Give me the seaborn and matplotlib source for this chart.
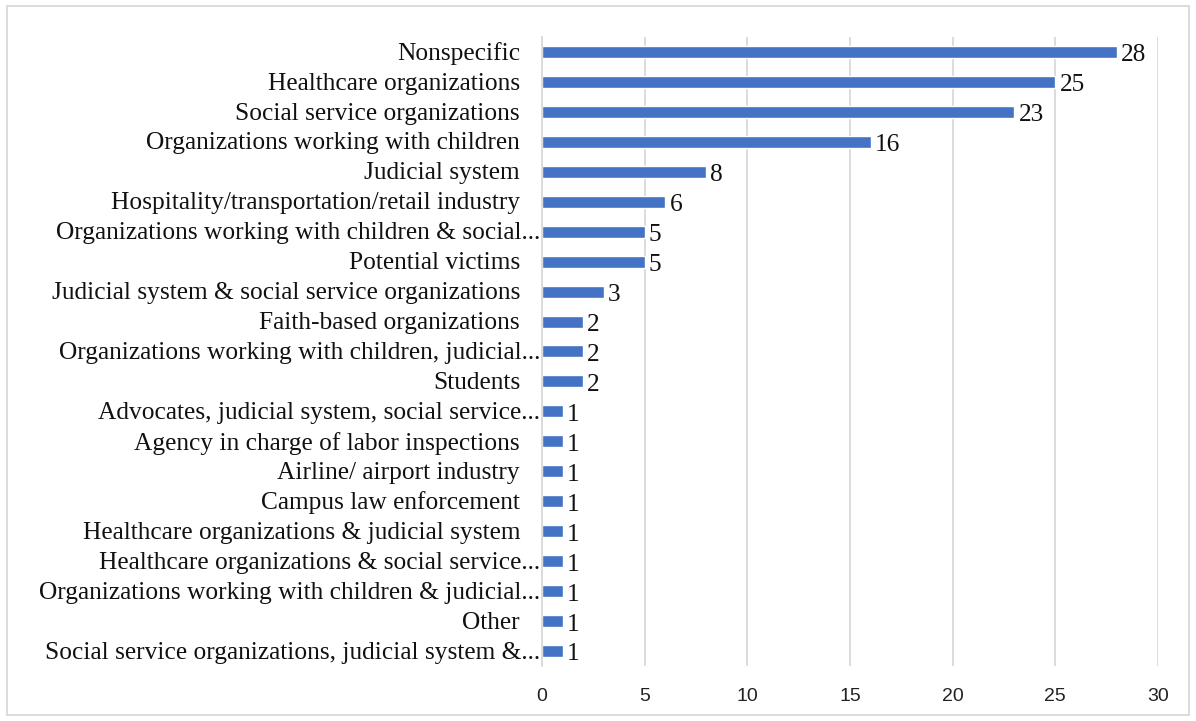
import matplotlib
matplotlib.use("Agg")
import matplotlib.pyplot as plt
import seaborn as sns
import pandas as pd
from matplotlib.patches import Rectangle

sns.set_theme(style="white")

categories = [
    "Nonspecific",
    "Healthcare organizations",
    "Social service organizations",
    "Organizations working with children",
    "Judicial system",
    "Hospitality/transportation/retail industry",
    "Organizations working with children & social...",
    "Potential victims",
    "Judicial system & social service organizations",
    "Faith-based organizations",
    "Organizations working with children, judicial...",
    "Students",
    "Advocates, judicial system, social service...",
    "Agency in charge of labor inspections",
    "Airline/ airport industry",
    "Campus law enforcement",
    "Healthcare organizations & judicial system",
    "Healthcare organizations & social service...",
    "Organizations working with children & judicial...",
    "Other",
    "Social service organizations, judicial system &...",
]
counts = [28, 25, 23, 16, 8, 6, 5, 5, 3, 2, 2, 2, 1, 1, 1, 1, 1, 1, 1, 1, 1]
xticks = [0, 5, 10, 15, 20, 25, 30]

df = pd.DataFrame({"cat": categories, "n": counts})

serif = ["Liberation Serif", "DejaVu Serif"]
sans = ["Liberation Sans", "DejaVu Sans"]
fs = 18.3

fig = plt.figure(figsize=(11.96, 7.21), dpi=100)
ax = fig.add_axes([0.4532, 0.0763, 0.5150, 0.8724])

sns.barplot(data=df, y="cat", x="n", color="#4472C4", saturation=1,
            width=0.4, orient="h", ax=ax)

ax.set_xlim(0, 30)
ax.set_ylim(len(categories) - 0.5, -0.5)
ax.set_xticks(xticks)
ax.set_xticklabels([str(t) for t in xticks], family=sans, fontsize=14, color="#222222")
ax.set_yticks(range(len(categories)))
ax.set_yticklabels([])
ax.tick_params(axis="y", length=0)
ax.tick_params(axis="x", length=0, pad=16)
ax.set_xlabel("")
ax.set_ylabel("")
ax.grid(axis="x", color="#d9d9d9", linewidth=1.3)
ax.set_axisbelow(True)
for s in ["top", "right", "bottom"]:
    ax.spines[s].set_visible(False)
ax.spines["left"].set_color("#d9d9d9")
ax.spines["left"].set_linewidth(1.3)

# category labels: excel-style, ellipsis hangs past the normal right edge
for i, c in enumerate(categories):
    off = -1.5 if c.endswith("...") else -15.8
    ax.annotate(c, xy=(0, i), xycoords=("axes fraction", "data"),
                xytext=(off, -1.2), textcoords="offset points",
                ha="right", va="center", family=serif, fontsize=fs, color="#111111")

for i, v in enumerate(counts):
    ax.annotate(str(v), xy=(v, i), xytext=(3, -2.5), textcoords="offset points",
                va="center", ha="left", family=serif, fontsize=fs, color="#111111")

fig.patches.append(Rectangle((0.006, 0.009), 0.988, 0.982, transform=fig.transFigure,
                             fill=False, edgecolor="#d9d9d9", linewidth=1.3))

fig.savefig("out.png", dpi=100, facecolor="white")
